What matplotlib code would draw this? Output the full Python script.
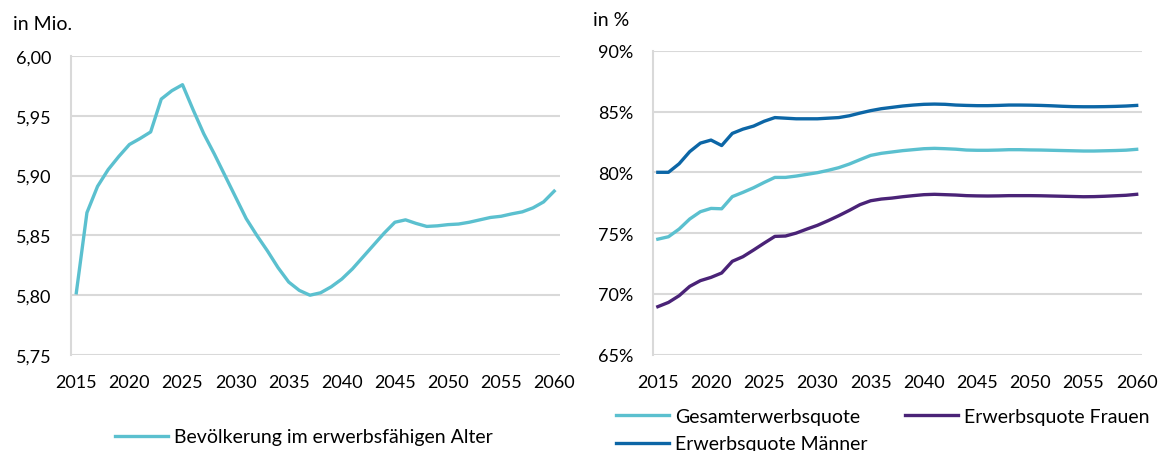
import matplotlib
matplotlib.use("Agg")
import matplotlib.pyplot as plt
from matplotlib.ticker import FuncFormatter, MultipleLocator

plt.rcParams['font.family'] = ['Lato', 'DejaVu Sans']

years = list(range(2015, 2061))

bevoelkerung = [5.802, 5.869, 5.891, 5.905, 5.916, 5.926, 5.931, 5.9365, 5.964, 5.971,
                5.976, 5.955, 5.935, 5.918, 5.900, 5.882, 5.864, 5.850, 5.837, 5.823,
                5.811, 5.804, 5.800, 5.802, 5.807, 5.8135, 5.822, 5.832, 5.842, 5.852,
                5.861, 5.863, 5.860, 5.8575, 5.858, 5.859, 5.8595, 5.861, 5.863, 5.865,
                5.866, 5.868, 5.8697, 5.873, 5.878, 5.887]

quote_gesamt = [74.5, 74.7, 75.33, 76.16, 76.76, 77.03, 77.0, 78.0, 78.35, 78.73,
                79.17, 79.58, 79.58, 79.69, 79.83, 79.97, 80.16, 80.38, 80.68, 81.04,
                81.39, 81.56, 81.67, 81.78, 81.86, 81.94, 81.97, 81.94, 81.9, 81.83,
                81.81, 81.81, 81.83, 81.86, 81.86, 81.84, 81.83, 81.81, 81.79, 81.77,
                81.75, 81.75, 81.77, 81.79, 81.82, 81.89]

quote_maenner = [80.0, 80.0, 80.7, 81.7, 82.4, 82.65, 82.2, 83.2, 83.55, 83.8,
                 84.2, 84.5, 84.45, 84.4, 84.4, 84.4, 84.45, 84.5, 84.65, 84.87,
                 85.07, 85.23, 85.34, 85.45, 85.53, 85.59, 85.61, 85.59, 85.53, 85.5,
                 85.48, 85.48, 85.5, 85.53, 85.53, 85.52, 85.5, 85.47, 85.43, 85.4,
                 85.39, 85.39, 85.4, 85.42, 85.45, 85.5]

quote_frauen = [68.95, 69.3, 69.85, 70.62, 71.09, 71.36, 71.72, 72.68, 73.06, 73.61,
                74.18, 74.73, 74.76, 75.0, 75.33, 75.64, 76.02, 76.43, 76.87, 77.34,
                77.66, 77.8, 77.88, 77.99, 78.08, 78.16, 78.19, 78.16, 78.13, 78.08,
                78.06, 78.05, 78.06, 78.08, 78.08, 78.08, 78.07, 78.05, 78.03, 78.01,
                77.99, 78.0, 78.03, 78.07, 78.11, 78.19]

x_ticks = list(range(2015, 2061, 5))

TEAL = '#5bc0cf'
BLUE = '#0c66a6'
PURPLE = '#4a2377'
GRID = '#d9d9d9'
TXT = '#000000'
FS_TICK = 13
FS_LEG = 14
FS_UNIT = 14
LW = 2.4

W, H = 1164, 452
fig = plt.figure(figsize=(W / 100, H / 100), dpi=100)

def px_axes(x0, y0, x1, y1):
    return fig.add_axes([x0 / W, 1 - y1 / H, (x1 - x0) / W, (y1 - y0) / H])

def fpt(x, y):
    return (x / W, 1 - y / H)

ax1 = px_axes(71, 57, 559.5, 356)
ax2 = px_axes(652.5, 51.7, 1142, 355.7)

def style(ax):
    for s in ['top', 'right', 'bottom']:
        ax.spines[s].set_visible(False)
    ax.spines['left'].set_color(GRID)
    ax.spines['left'].set_linewidth(1.5)
    ax.grid(axis='y', color=GRID, linewidth=1.5)
    ax.set_axisbelow(True)
    ax.tick_params(axis='both', length=0, labelsize=FS_TICK, colors=TXT)
    ax.tick_params(axis='y', pad=14)
    ax.tick_params(axis='x', pad=14)
    ax.set_xlim(2014.5, 2060.5)
    ax.set_xticks(x_ticks)

leg_kw = dict(frameon=False, fontsize=FS_LEG, handlelength=2.7, handletextpad=0.35,
              borderpad=0, borderaxespad=0, bbox_transform=fig.transFigure)

# Left chart
ax1.plot(years, bevoelkerung, color=TEAL, lw=LW, solid_joinstyle='round',
         label='Bevölkerung im erwerbsfähigen Alter')
ax1.set_ylim(5.75, 6.00)
ax1.yaxis.set_major_locator(MultipleLocator(0.05))
ax1.yaxis.set_major_formatter(FuncFormatter(lambda v, p: f"{v:.2f}".replace('.', ',')))
style(ax1)
fig.text(*fpt(13, 25), 'in Mio.', fontsize=FS_UNIT, va='center', ha='left', color=TXT)
ax1.legend(loc='center left', bbox_to_anchor=fpt(115, 438), **leg_kw)

# Right chart
l_g, = ax2.plot(years, quote_gesamt, color=TEAL, lw=LW, solid_joinstyle='round',
                label='Gesamterwerbsquote')
l_m, = ax2.plot(years, quote_maenner, color=BLUE, lw=LW, solid_joinstyle='round',
                label='Erwerbsquote Männer')
l_f, = ax2.plot(years, quote_frauen, color=PURPLE, lw=LW, solid_joinstyle='round',
                label='Erwerbsquote Frauen')
ax2.set_ylim(65, 90)
ax2.yaxis.set_major_locator(MultipleLocator(5))
ax2.yaxis.set_major_formatter(FuncFormatter(lambda v, p: f"{v:.0f}%"))
style(ax2)
fig.text(*fpt(593, 21), 'in %', fontsize=FS_UNIT, va='center', ha='left', color=TXT)

leg_a = ax2.legend(handles=[l_g], loc='center left', bbox_to_anchor=fpt(616, 417), **leg_kw)
ax2.add_artist(leg_a)
leg_b = ax2.legend(handles=[l_f], loc='center left', bbox_to_anchor=fpt(905, 417), **leg_kw)
ax2.add_artist(leg_b)
ax2.legend(handles=[l_m], loc='center left', bbox_to_anchor=fpt(616, 445), **leg_kw)

fig.savefig('out.png', dpi=100)
